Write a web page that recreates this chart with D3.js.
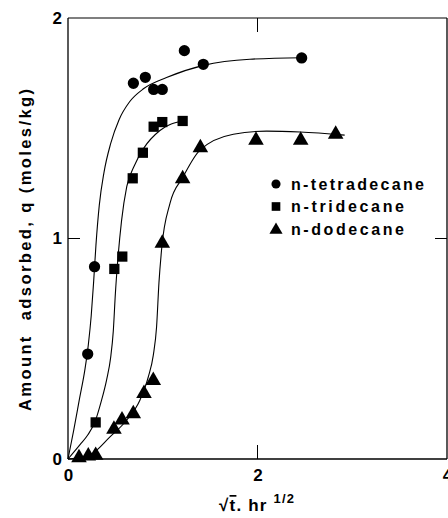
<!DOCTYPE html>
<html><head><meta charset="utf-8">
<script src="https://cdn.jsdelivr.net/npm/d3@7"></script>
<style>body{margin:0;background:#fff}svg{display:block}</style>
</head><body><svg id="c" width="448" height="518"></svg>
<script>
const xTicks = [0, 2, 4];
const yTicks = [0, 1, 2];
const seriesNames = ["n-tetradecane", "n-tridecane", "n-dodecane"];
const tetraPts = [[0.208,0.476],[0.28,0.872],[0.69,1.704],[0.816,1.731],[0.904,1.676],[0.995,1.676],[1.228,1.852],[1.428,1.79],[2.466,1.819]];
const triPts = [[0.292,0.166],[0.489,0.862],[0.573,0.918],[0.683,1.273],[0.79,1.389],[0.904,1.507],[0.995,1.528],[1.21,1.533]];
const dodePts = [[0.116,0.01],[0.214,0.018],[0.292,0.021],[0.485,0.139],[0.57,0.181],[0.689,0.21],[0.802,0.302],[0.9,0.361],[0.995,0.983],[1.21,1.276],[1.397,1.416],[1.984,1.45],[2.456,1.45],[2.825,1.477]];
const tetraCurve = [[0,0],[0.06,0.13],[0.12,0.27],[0.18,0.41],[0.215,0.52],[0.245,0.65],[0.27,0.8],[0.295,0.97],[0.33,1.15],[0.38,1.3],[0.45,1.43],[0.54,1.54],[0.65,1.62],[0.8,1.68],[1.04,1.73],[1.43,1.785],[1.92,1.813],[2.47,1.82]];
const triCurve = [[0,0],[0.127,0.065],[0.21,0.11],[0.285,0.169],[0.35,0.26],[0.408,0.36],[0.45,0.46],[0.478,0.58],[0.5,0.75],[0.525,0.9],[0.565,1.08],[0.62,1.235],[0.7,1.33],[0.8,1.41],[0.97,1.49],[1.21,1.533]];
const dodeCurve = [[0,0],[0.23,0.018],[0.443,0.10],[0.62,0.177],[0.76,0.268],[0.848,0.373],[0.9,0.47],[0.935,0.6],[0.96,0.8],[0.99,0.96],[1.077,1.16],[1.21,1.276],[1.39,1.40],[1.745,1.473],[2.097,1.487],[2.45,1.483],[2.92,1.469]];

const svg = d3.select("#c");
const x = d3.scaleLinear().domain([0,4]).range([68,447]);
const y = d3.scaleLinear().domain([0,2]).range([459,18]);
const font = "'Liberation Sans', Arial, sans-serif";

const g = svg.append("g");
g.append("line").attr("x1",x(0)).attr("x2",x(4)).attr("y1",y(0)).attr("y2",y(0)).attr("stroke","#000").attr("stroke-width",1.6);
g.append("line").attr("x1",x(0)).attr("x2",x(0)).attr("y1",y(0)).attr("y2",y(2)).attr("stroke","#000").attr("stroke-width",1.3);
g.append("line").attr("x1",x(0)).attr("x2",x(4)).attr("y1",y(2)).attr("y2",y(2)).attr("stroke","#000").attr("stroke-width",1.1);
g.append("line").attr("x1",x(4)).attr("x2",x(4)).attr("y1",y(0)).attr("y2",y(2)).attr("stroke","#000").attr("stroke-width",1.3);

const xAxis = svg.append("g").attr("transform",`translate(0,${y(0)})`)
  .call(d3.axisBottom(x).tickValues(xTicks).tickSize(0).tickPadding(10).tickFormat(d3.format("d")));
xAxis.select(".domain").remove();
xAxis.selectAll("text").attr("font-family",font).attr("font-size",17).attr("font-weight","bold").attr("fill","#000");
const yAxis = svg.append("g").attr("transform",`translate(${x(0)},0)`)
  .call(d3.axisLeft(y).tickValues(yTicks).tickSize(0).tickPadding(6).tickFormat(d3.format("d")));
yAxis.select(".domain").remove();
yAxis.selectAll("text").attr("font-family",font).attr("font-size",17).attr("font-weight","bold").attr("fill","#000");

[2].forEach(v=>{
  g.append("line").attr("x1",x(v)).attr("x2",x(v)).attr("y1",y(0)).attr("y2",y(0)-14).attr("stroke","#000").attr("stroke-width",1);
  g.append("line").attr("x1",x(v)).attr("x2",x(v)).attr("y1",y(2)).attr("y2",y(2)+14).attr("stroke","#000").attr("stroke-width",1);
});
[1].forEach(v=>{
  g.append("line").attr("x1",x(0)).attr("x2",x(0)+12).attr("y1",y(v)).attr("y2",y(v)).attr("stroke","#000").attr("stroke-width",1);
  g.append("line").attr("x1",x(4)-12).attr("x2",x(4)).attr("y1",y(v)).attr("y2",y(v)).attr("stroke","#000").attr("stroke-width",1);
});

const line = d3.line().x(d=>x(d[0])).y(d=>y(d[1])).curve(d3.curveMonotoneX);
[tetraCurve, triCurve, dodeCurve].forEach(c=>{
  svg.append("path").attr("d",line(c)).attr("fill","none").attr("stroke","#000").attr("stroke-width",1.1);
});

const sym = [d3.symbolCircle, d3.symbolSquare, d3.symbolTriangle];
const sizes = [100, 105, 105];
[tetraPts, triPts, dodePts].forEach((pts,i)=>{
  svg.append("g").selectAll("path").data(pts).join("path")
    .attr("transform",d=>`translate(${x(d[0])},${y(d[1]) + (i===2?1:0)})`)
    .attr("d",d3.symbol().type(sym[i]).size(sizes[i])).attr("fill","#000");
});

const legLens = [133, 113, 113];
const leg = svg.append("g");
seriesNames.forEach((n,i)=>{
  const ly = 184 + i*22.5;
  leg.append("path").attr("transform",`translate(276,${ly+(i===2?1:0)})`)
    .attr("d",d3.symbol().type(sym[i]).size(i===0?65:75)).attr("fill","#000");
  leg.append("text").attr("x",291).attr("y",ly+5.5).text(n)
    .attr("textLength",legLens[i]).attr("lengthAdjust","spacing")
    .attr("font-family",font).attr("font-size",16).attr("font-weight","bold").attr("fill","#000");
});

svg.append("text").attr("transform","translate(31,250) rotate(-90)").attr("text-anchor","middle")
  .attr("xml:space","preserve").attr("textLength",322).attr("lengthAdjust","spacing")
  .attr("font-family",font).attr("font-size",16.5).attr("font-weight","bold").attr("fill","#000")
  .text("Amount  adsorbed, q (moles/kg)");

const xl = svg.append("text").attr("x",219).attr("y",511).attr("letter-spacing",1.2)
  .attr("font-family",font).attr("font-size",17).attr("font-weight","bold").attr("fill","#000").attr("xml:space","preserve");
xl.append("tspan").text("√");
xl.append("tspan").attr("text-decoration","overline").text("t");
xl.append("tspan").text(". hr ");
xl.append("tspan").attr("dy",-8).attr("font-size",13).text("1/2");
</script></body></html>
